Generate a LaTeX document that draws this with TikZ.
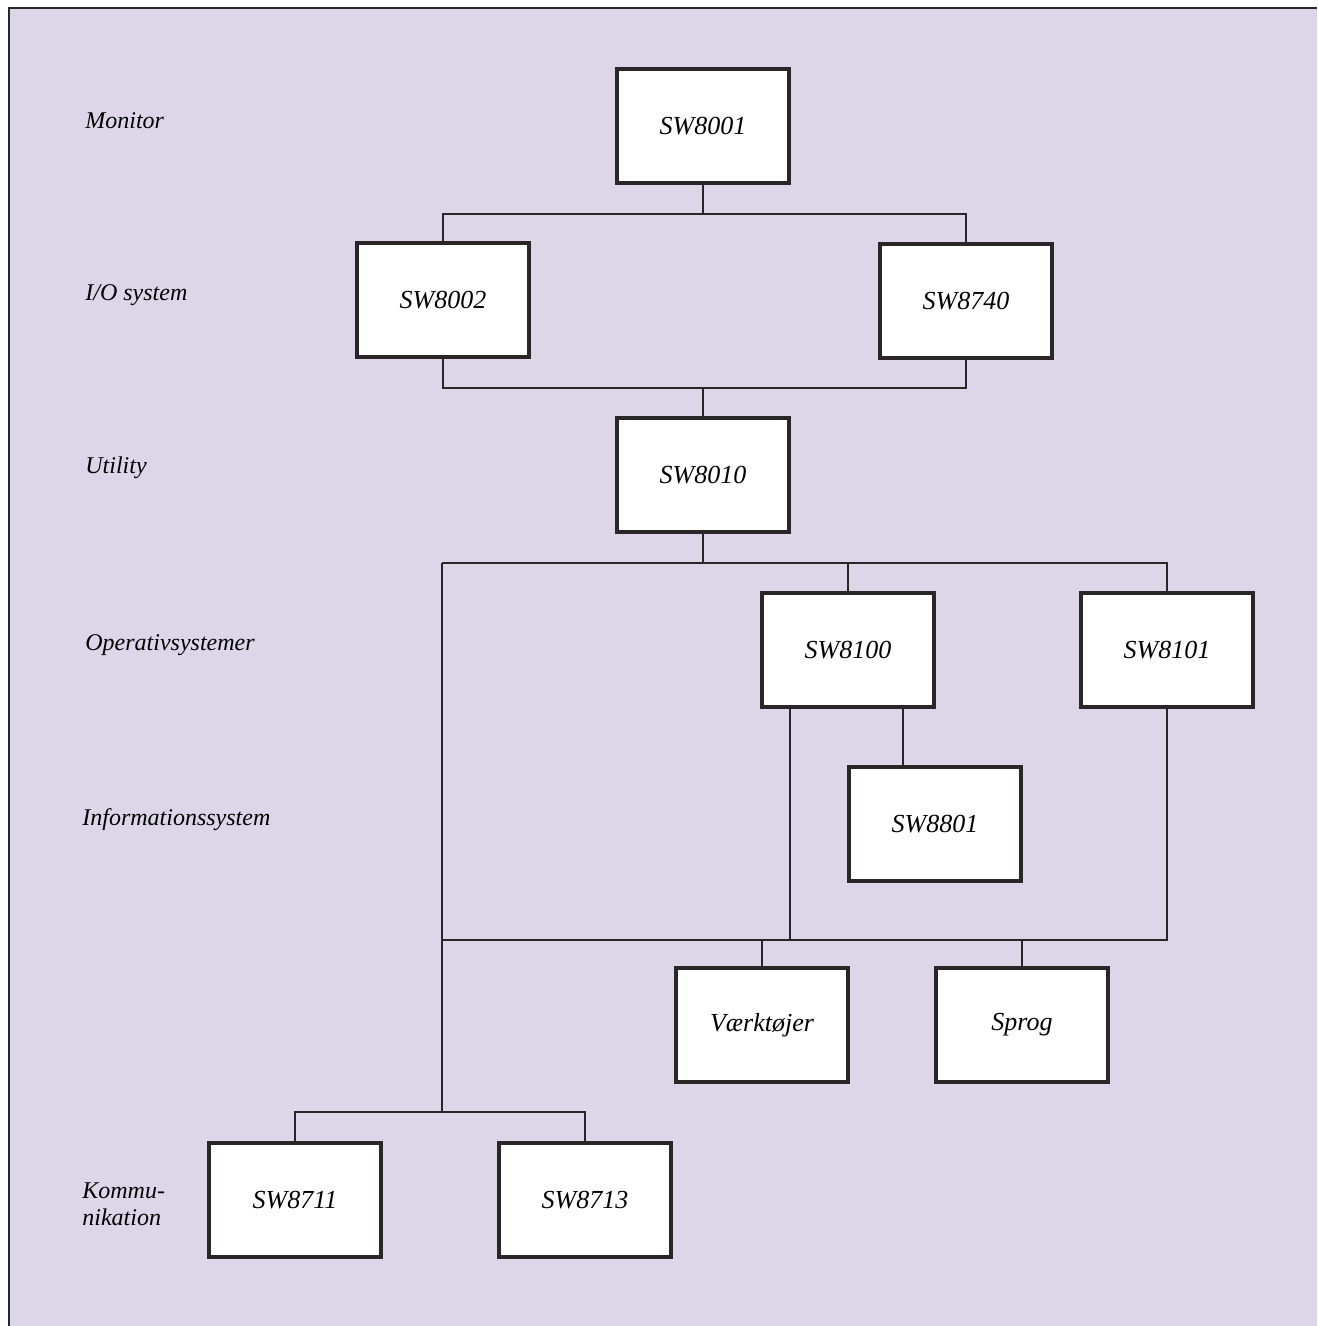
\documentclass[tikz,border=0pt]{standalone}
\usepackage{fontspec}
\setmainfont{Liberation Serif}
\usepackage{tikz}
\usetikzlibrary{positioning}
\definecolor{lavender}{HTML}{DCD6E8}
\definecolor{inkline}{HTML}{2A2628}

\begin{document}
\begin{tikzpicture}[x=0.5pt, y=-0.5pt,
  swbox/.style={rectangle, draw=inkline, line width=2pt, fill=white,
                minimum width=86pt, minimum height=57pt, align=center,
                font=\fontsize{13}{16}\selectfont\itshape},
  lbl/.style={anchor=west, align=left, inner sep=0pt,
              font=\fontsize{12}{13.5}\selectfont\itshape},
  conn/.style={draw=inkline, line width=1pt},
]
  % page and backdrop
  \useasboundingbox (0,0) rectangle (1317,1326);
  \fill[lavender] (9,8) rectangle (1317,1326);
  \draw[inkline, line width=0.6pt] (9,1326) -- (9,8) -- (1317,8);

  % level labels
  \node[lbl] (lmon)  at (85,121)  {Monitor};
  \node[lbl] (lio)   at (85,295)  {I/O system};
  \node[lbl] (lutil) at (85,468)  {Utility};
  \node[lbl] (los)   at (85,645)  {Operativsystemer};
  \node[lbl] (linfo) at (82,820)  {Informationssystem};
  \node[lbl] (lkom)  at (82,1204) {Kommu-\\nikation};

  % boxes
  \node[swbox] (mon)  at (703,126)  {SW8001};
  \node[swbox] (io1)  at (443,300)  {SW8002};
  \node[swbox] (io2)  at (966,301)  {SW8740};
  \node[swbox] (util) at (703,475)  {SW8010};
  \node[swbox] (os1)  at (848,650)  {SW8100};
  \node[swbox] (os2)  at (1167,650) {SW8101};
  \node[swbox] (info) at (935,824)  {SW8801};
  \node[swbox] (tool) at (762,1025) {Værktøjer};
  \node[swbox] (lang) at (1022,1025) {Sprog};
  \node[swbox] (kom1) at (295,1200) {SW8711};
  \node[swbox] (kom2) at (585,1200) {SW8713};

  % junction points
  \coordinate (busmon)  at (703,214);
  \coordinate (busio)   at (703,388);
  \coordinate (busutil) at (703,563);
  \coordinate (spine)   at (442,563);
  \coordinate (busos)   at (442,940);
  \coordinate (buskom)  at (442,1112);
  \coordinate (osdrop)  at ([xshift=15pt]os1.south west);
  \coordinate (infotop) at ([xshift=28pt]info.north west);

  % connectors
  \draw[conn] (mon.south) -- (busmon);
  \draw[conn] (io1.north) |- (busmon) -| (io2.north);
  \draw[conn] (io1.south) |- (busio) -| (io2.south);
  \draw[conn] (busio) -- (util.north);
  \draw[conn] (util.south) -- (busutil);
  \draw[conn] (spine) -- (busutil) -| (os1.north);
  \draw[conn] (busutil) -| (os2.north);
  \draw[conn] (spine) -- (buskom);
  \draw[conn] (infotop) -- (infotop |- os1.south);
  \draw[conn] (osdrop) |- (busos);
  \draw[conn] (os2.south) |- (busos);
  \draw[conn] (tool.north) |- (busos);
  \draw[conn] (lang.north) |- (busos);
  \draw[conn] (kom1.north) |- (buskom) -| (kom2.north);
\end{tikzpicture}
\end{document}
